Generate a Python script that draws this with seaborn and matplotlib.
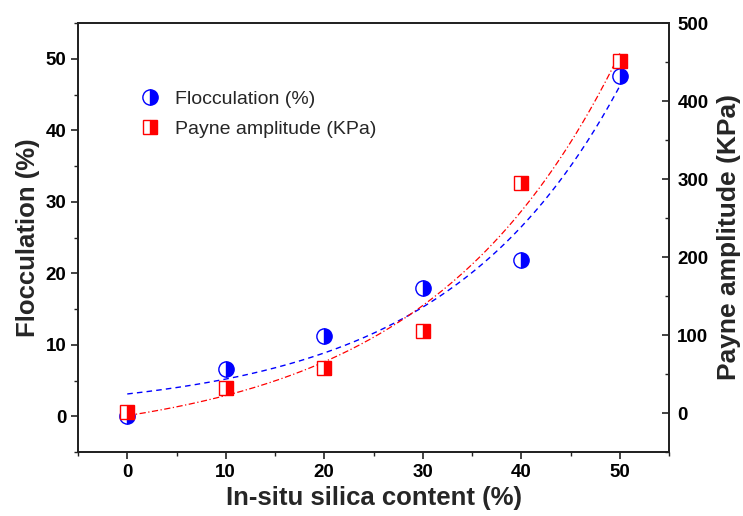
import numpy as np
import pandas as pd
import matplotlib
matplotlib.use("Agg")
import matplotlib.pyplot as plt
from matplotlib.lines import Line2D
from matplotlib.ticker import MultipleLocator
import seaborn as sns

silica = [0, 10, 20, 30, 40, 50]
flocculation = [0.0, 6.6, 11.2, 17.9, 21.8, 47.6]
payne = [1, 32, 58, 105, 295, 451]
x_ticks = [0, 10, 20, 30, 40, 50]

sns.set_style("ticks")
plt.rcParams['font.family'] = ['Liberation Sans', 'DejaVu Sans']


def exp_fit(x, y):
    x = np.asarray(x, float)
    y = np.asarray(y, float)
    best = None
    for b in np.linspace(0.001, 0.2, 4000):
        A = np.column_stack([np.ones_like(x), np.exp(b * x)])
        coef, *_ = np.linalg.lstsq(A, y, rcond=None)
        r = np.sum((A @ coef - y) ** 2)
        if best is None or r < best[0]:
            best = (r, b, coef)
    _, b, coef = best
    xs = np.linspace(x.min(), x.max(), 200)
    return xs, coef[0] + coef[1] * np.exp(b * xs)


fig = plt.figure(figsize=(7.43, 5.16), dpi=100)
ax = fig.add_subplot(111)
fig.subplots_adjust(left=78 / 743, right=669 / 743, bottom=1 - 452 / 516, top=1 - 23 / 516)
ax2 = ax.twinx()

df = pd.DataFrame({"silica": silica, "floc": flocculation, "payne": payne})

xf, yf = exp_fit(silica, flocculation)
xp, yp = exp_fit(silica, payne)

sns.lineplot(x=xf, y=yf, ax=ax, color="blue", linestyle=(0, (4, 3)), linewidth=1.0, zorder=2)
sns.lineplot(x=xp, y=yp, ax=ax2, color="red", linestyle=(0, (5, 2, 1, 2)), linewidth=0.9, zorder=2)

sns.lineplot(data=df, x="silica", y="floc", ax=ax, linestyle="", marker="o", markersize=11,
             fillstyle="right", color="blue", markerfacecoloralt="white",
             markeredgecolor="blue", markeredgewidth=1.0, zorder=3)
sns.lineplot(data=df, x="silica", y="payne", ax=ax2, linestyle="", marker="s", markersize=9.5,
             fillstyle="right", color="red", markerfacecoloralt="white",
             markeredgecolor="red", markeredgewidth=1.0, zorder=3)

ax.set_xlim(-5, 55)
ax.set_ylim(-5, 55)
ax2.set_ylim(-50, 500)
ax.set_xticks(x_ticks)
ax.xaxis.set_minor_locator(MultipleLocator(5))
ax.set_yticks([0, 10, 20, 30, 40, 50])
ax.yaxis.set_minor_locator(MultipleLocator(5))
ax2.set_yticks([0, 100, 200, 300, 400, 500])
ax2.yaxis.set_minor_locator(MultipleLocator(50))

for a in (ax, ax2):
    for s in a.spines.values():
        s.set_linewidth(1.3)
        s.set_color("#222222")

ax.tick_params(axis="both", which="major", direction="out", length=5, width=1.2, colors="#222222",
               labelsize=13.5, labelcolor="black")
ax.tick_params(axis="both", which="minor", direction="out", length=3, width=1.0, colors="#222222")
ax2.tick_params(axis="y", which="major", direction="in", length=5, width=1.2, colors="#222222",
                labelsize=13.5, labelcolor="black", pad=6)
ax2.tick_params(axis="y", which="minor", direction="in", length=3, width=1.0, colors="#222222")

for lab in ax.get_xticklabels() + ax.get_yticklabels() + ax2.get_yticklabels():
    lab.set_fontweight("bold")

ax.set_xlabel("In-situ silica content (%)", fontsize=18.5, fontweight="bold", labelpad=4)
ax.set_ylabel("Flocculation (%)", fontsize=18.5, fontweight="bold", labelpad=4)
ax2.set_ylabel("Payne amplitude (KPa)", fontsize=19, fontweight="bold", labelpad=6)

handles = [
    Line2D([], [], linestyle="", marker="o", markersize=11, fillstyle="right", color="blue",
           markerfacecoloralt="white", markeredgecolor="blue"),
    Line2D([], [], linestyle="", marker="s", markersize=9.5, fillstyle="right", color="red",
           markerfacecoloralt="white", markeredgecolor="red"),
]
leg = ax.legend(handles, ["Flocculation (%)", "Payne amplitude (KPa)"], loc="upper left",
                bbox_to_anchor=(118 / 743, 1 - 73 / 516), bbox_transform=fig.transFigure,
                frameon=False, fontsize=14, handlelength=1.5, handletextpad=0.55,
                labelspacing=0.62)

fig.savefig("out.png", dpi=100)
